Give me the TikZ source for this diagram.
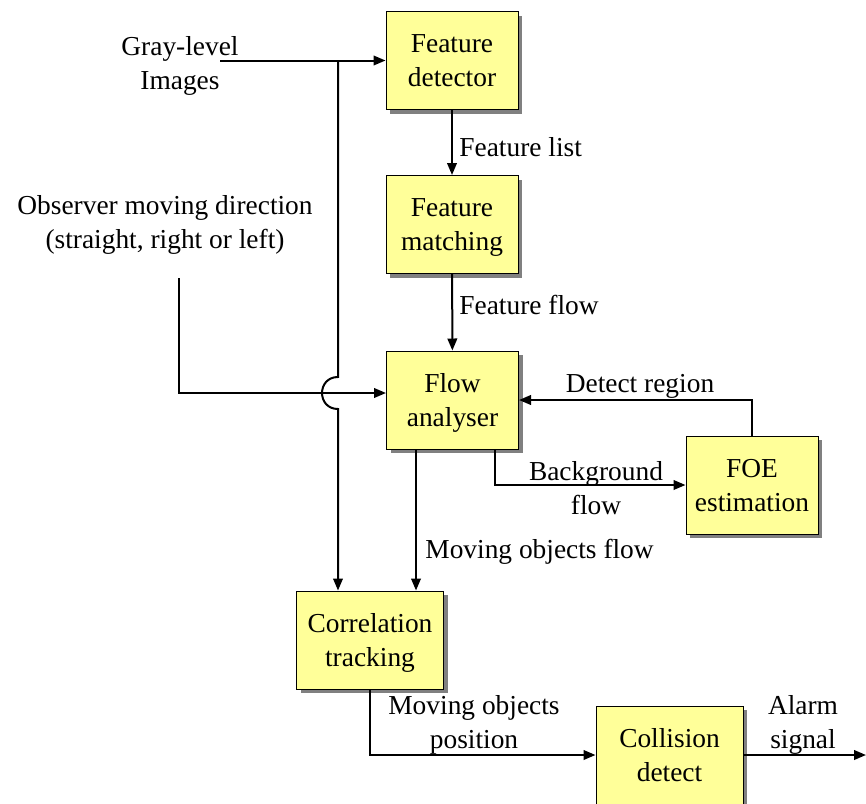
\documentclass[tikz,border=0pt]{standalone}
\usepackage{fontspec}
\setmainfont{Liberation Serif}
\usetikzlibrary{arrows.meta,shadows}
\definecolor{boxyellow}{RGB}{255,255,153}
\definecolor{shadowgray}{RGB}{128,128,128}
\begin{document}
\begin{tikzpicture}[x=0.5pt, y=-0.5pt, >={Triangle[length=6pt,width=4.8pt]},
  every node/.style={font=\fontsize{13.7}{17}\selectfont},
  block/.style={draw, line width=0.5pt, fill=boxyellow, align=center,
    minimum width=66pt, minimum height=49pt, inner sep=0pt, text depth=0pt,
    drop shadow={shadow xshift=2pt, shadow yshift=-2pt, fill=shadowgray, opacity=1}},
  wideblock/.style={block, minimum width=73.5pt},
  flow/.style={->, line width=1pt},
  lbl/.style={align=center, inner sep=0pt}]
  \useasboundingbox (0,0) rectangle (866,803);

  % Processing blocks
  \node[block] (fd) at (452,60.5) {Feature\\detector};
  \node[block] (fm) at (452,224.5) {Feature\\matching};
  \node[block] (fa) at (452.5,400) {Flow\\analyser};
  \node[block] (foe) at (752,485) {FOE\\estimation};
  \node[wideblock] (corr) at (370,640) {Correlation\\tracking};
  \node[wideblock] (coll) at (669.5,755) {Collision\\detect};

  % Inputs
  \node[lbl] (gray) at (180,66) {Gray-level\\Images};
  \node[lbl] (obs) at (165,225) {Observer moving direction\\(straight, right or left)};
  \coordinate (grayend) at (220,60.5);
  \coordinate (obsend) at (179,278);
  \coordinate (bus) at ([xshift=-16pt]corr.north);
  \coordinate (branch) at (bus |- fd.west);
  \coordinate (mo) at ([xshift=-18.25pt]fa.south);
  \coordinate (bg) at ([xshift=21.25pt]fa.south);
  \coordinate (alarm) at (866,755);

  % Connectors
  \draw[flow] (grayend) -- (fd.west);
  \draw[flow] (branch) -- (338,377) .. controls (316.7,377) and (316.7,409) .. (338,409) -- (bus);
  \draw[flow] (obsend) |- ([yshift=3.5pt]fa.west);
  \draw[flow] (fd) -- (fm);
  \draw[flow] (fm) -- (fa);
  \draw[flow] (foe.north) |- (fa.east);
  \draw[flow] (bg) |- (foe.west);
  \draw[flow] (mo) -- (mo |- corr.north);
  \draw[flow] (corr.south) |- (coll.west);
  \draw[flow] (coll.east) -- (alarm);

  % Connector labels
  \node[lbl, anchor=west] (flist) at (459,147) {Feature list};
  \node[lbl, anchor=west] (fflow) at (459,305) {Feature flow};
  \node[lbl] (detreg) at (640,386) {Detect region};
  \node[lbl] (bgflow) at (596,488) {Background\\flow};
  \node[lbl, anchor=west] (moflow) at (425,552) {Moving objects flow};
  \node[lbl] (mopos) at (474,725) {Moving objects\\position};
  \node[lbl] (alarmsig) at (803,725) {Alarm\\signal};
\end{tikzpicture}
\end{document}
